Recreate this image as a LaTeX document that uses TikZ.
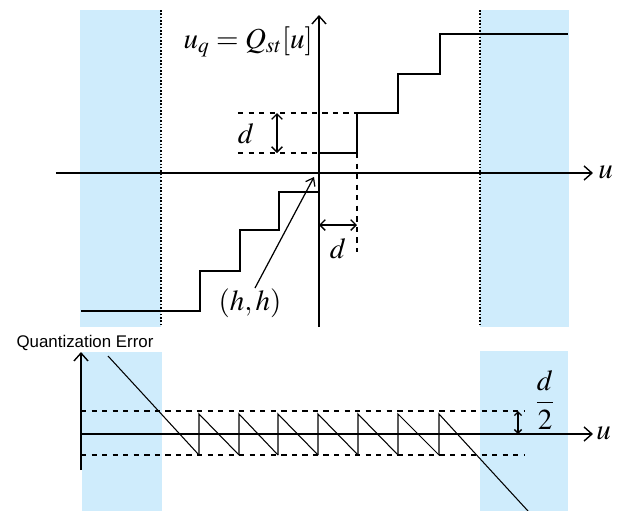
\documentclass[tikz,border=0pt]{standalone}
\usepackage{amsmath}
\usepackage{mathptmx}
\usepackage[no-math]{fontspec}
\newfontfamily\errfont{Liberation Sans}
\usetikzlibrary{arrows.meta}
\definecolor{band}{RGB}{207,236,252}

\begin{document}
\begin{tikzpicture}[x=0.02cm, y=-0.02cm,
	ax/.style = {-{Straight Barb[length=4.5pt,width=8pt]}, line width=0.8pt},
	dim/.style = {{Straight Barb[length=3pt,width=6pt]}-{Straight Barb[length=3pt,width=6pt]}, line width=0.8pt},
	tiny/.style = {{Straight Barb[length=2pt,width=4pt]}-{Straight Barb[length=2pt,width=4pt]}, line width=0.8pt},
	stair/.style = {line width=1.5pt},
	saw/.style = {line width=0.6pt},
	lim/.style = {densely dotted, line width=0.9pt},
	guide/.style = {dashed, line width=0.7pt},
	lbl/.style = {inner sep=0pt, font=\fontsize{16.5}{20}\selectfont}
	]
	\useasboundingbox (0,0) rectangle (627,511);
	
	% === === Bands === ===
	\fill[band]	(80,10)	rectangle	(161,327);
	\fill[band]	(480,10)	rectangle	(569,327);
	\fill[band]	(82,352)	rectangle	(162,511);
	\fill[band]	(480,351)	rectangle	(568,511);
	\draw[lim]	(161,10)	--	(161,327);
	\draw[lim]	(480,10)	--	(480,327);
	
	% === === Quantizer === ===
	\coordinate	(ul)	at	(56,173);
	\coordinate	(ur)	at	(593,173);
	\coordinate	(qb)	at	(319,327);
	\coordinate	(qt)	at	(319,15);
	\draw[ax]	(ul)	--	(ur);
	\draw[ax]	(qb)	--	(qt);
	\node[lbl, anchor=west]	(u1)	at	(598,172)	{$u$};
	\node[lbl, anchor=east]	(qlab)	at	(313,42)	{$u_q=Q_{st}[u]$};
	
	\draw[stair]	(81,311) -| (200,271) -| (240,230) -| (279,192) -| (319,153)
		-| (357,113) -| (398,74) -| (440,34) -- (568,34);
	
	\draw[guide]	(238,113)	--	(357,113);
	\draw[guide]	(238,153)	--	(319,153);
	\draw[guide]	(357,153)	--	(357,252);
	\draw[dim]	(277,113)	--	(277,153);
	\draw[dim]	(319,225)	--	(357,225);
	\node[lbl]	(dv)	at	(246,134)	{$d$};
	\node[lbl]	(dh)	at	(338,249)	{$d$};
	
	\node[lbl]	(hh)	at	(250,303)	{$(h,h)$};
	\coordinate	(hs)	at	(255,288);
	\coordinate	(hpt)	at	(314,177);
	\draw[-{Straight Barb[length=4pt,width=6pt]}, line width=0.7pt]	(hs)	--	(hpt);
	
	% === === Error === ===
	\coordinate	(el)	at	(81,434);
	\coordinate	(er)	at	(593,434);
	\coordinate	(eb)	at	(81,470);
	\coordinate	(et)	at	(81,352);
	\draw[ax]	(el)	--	(er);
	\draw[ax]	(eb)	--	(et);
	\node[inner sep=0pt, font=\errfont\fontsize{9.6}{11}\selectfont]	(elab)	at	(85,343)	{Quantization Error};
	\node[lbl, anchor=west]	(u2)	at	(596,433)	{$u$};
	
	\draw[guide]	(81,411)	--	(525,411);
	\draw[guide]	(81,455)	--	(525,455);
	\draw[saw]	(108,356)	--	(199,455);
	\foreach \a/\b in {199/239, 239/278, 278/318, 318/358, 358/398, 398/439}
		\draw[saw]	(\a,455)	--	(\a,414)	--	(\b,455);
	\draw[saw]	(439,455)	--	(439,414)	--	(528,511);
	
	\draw[tiny]	(518,411)	--	(518,434);
	\node[lbl]	(half)	at	(545,400)	{$\dfrac{d}{2}$};
	
\end{tikzpicture}
\end{document}
